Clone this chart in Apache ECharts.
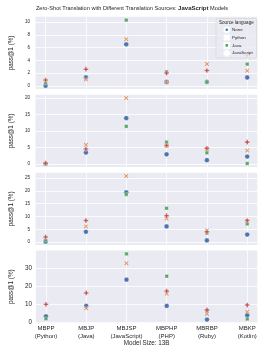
<!DOCTYPE html>
<html>
<head>
<meta charset="utf-8">
<script src="https://cdn.jsdelivr.net/npm/echarts@6/dist/echarts.min.js"></script>
<style>html,body{margin:0;padding:0;background:#fff}#c{width:264px;height:351px}</style>
</head>
<body>
<div id="c"></div>
<script>
const categories = ['MBPP\n(Python)', 'MBJP\n(Java)', 'MBJSP\n(JavaScript)', 'MBPHP\n(PHP)', 'MBRBP\n(Ruby)', 'MBKP\n(Kotlin)'];
const sources = ['None', 'Python', 'Java', 'JavaScript'];

// panel values: [None, Python, Java, JavaScript] per target benchmark
const panel1None = [0, 1.3, 6.5, 0.6, 0.6, 1.3];
const panel1Python = [null, 1.0, 7.3, 0.6, 3.4, 2.35];
const panel1Java = [0.4, null, 10.3, 2.2, 0.6, 3.4];
const panel1JavaScript = [0.9, 2.6, null, 2.0, 2.4, 4.8];

const panel2None = [0, 3.45, 13.9, 2.9, 1.1, 2.2];
const panel2Python = [null, 5.8, 20.0, 5.5, 4.5, 4.06];
const panel2Java = [0, null, 11.4, 6.6, 3.35, 0.1];
const panel2JavaScript = [0.2, 4.5, null, 5.6, 4.7, 6.6];

const panel3None = [0.13, 4.0, 19.4, 6.1, 0.65, 2.9];
const panel3Python = [null, 6.1, 25.8, 9.2, 4.5, 8.1];
const panel3Java = [0.65, null, 18.6, 13.2, 3.5, 7.1];
const panel3JavaScript = [1.95, 8.4, null, 10.3, 4.0, 8.4];

const panel4None = [3.3, 9.1, 23.7, 9.1, 1.5, 3.9];
const panel4Python = [null, 7.8, 32.8, 15.9, 4.6, 5.9];
const panel4Java = [2.0, null, 38.0, 25.6, 6.3, 1.85];
const panel4JavaScript = [10.0, 16.3, null, 17.4, 6.9, 9.6];

const yTicks1 = [0, 2, 4, 6, 8, 10];
const yTicks2 = [0, 5, 10, 15, 20];
const yTicks3 = [0, 5, 10, 15, 20, 25];
const yTicks4 = [0, 10, 20, 30];
const xTicks = [0, 1, 2, 3, 4, 5];

const panels = [
  [panel1None, panel1Python, panel1Java, panel1JavaScript],
  [panel2None, panel2Python, panel2Java, panel2JavaScript],
  [panel3None, panel3Python, panel3Java, panel3JavaScript],
  [panel4None, panel4Python, panel4Java, panel4JavaScript]
];
const yTicks = [yTicks1, yTicks2, yTicks3, yTicks4];

const colors = ['#4C72B0', '#DD8452', '#55A868', '#C44E52'];
const symbols = [
  'circle',
  'path://M0,1L1,0L3,2L5,0L6,1L4,3L6,5L5,6L3,4L1,6L0,5L2,3Z',
  'rect',
  'path://M2,0H4V2H6V4H4V6H2V4H0V2H2Z'
];
const symbolSizes = [4.8, 4.5, 3.5, 4.7];

const FONT = 'Liberation Sans, Arial, sans-serif';
const tops = [16.8, 94.8, 172.7, 250.6];
const H = 72.3;

const grids = [], xAxes = [], yAxes = [], series = [];
panels.forEach((panel, p) => {
  grids.push({left: 23, right: 6.7, top: tops[p], height: H, show: true, backgroundColor: '#EAEAF2', borderWidth: 0});
  xAxes.push({
    type: 'value', gridIndex: p, min: -0.25, max: 5.25,
    axisLine: {show: false}, axisTick: {show: false, customValues: xTicks},
    splitLine: {show: true, lineStyle: {color: '#ffffff', width: 0.8}},
    axisLabel: {show: p === 3, customValues: xTicks, formatter: v => categories[Math.round(v)] || '',
      fontSize: 6, color: '#262626', fontFamily: FONT, lineHeight: 7.4, margin: 2},
    name: p === 3 ? 'Model Size: 13B' : '', nameLocation: 'middle', nameGap: 17,
    nameTextStyle: {fontSize: 6.3, color: '#262626', fontFamily: FONT}
  });
  yAxes.push({
    type: 'value', gridIndex: p,
    min: v => v.min - 0.05 * (v.max - v.min),
    max: v => v.max + 0.05 * (v.max - v.min),
    axisLine: {show: false}, axisTick: {show: false, customValues: yTicks[p]},
    splitLine: {show: true, lineStyle: {color: '#ffffff', width: 0.8}},
    axisLabel: {customValues: yTicks[p], fontSize: p === 3 ? 6.3 : 4.6, color: '#262626', fontFamily: FONT, margin: p === 3 ? 4 : 5.5},
    name: 'pass@1 (%)', nameLocation: 'middle', nameRotate: 90, nameGap: 12,
    nameTextStyle: {fontSize: 6.3, color: '#262626', fontFamily: FONT}
  });
  panel.forEach((vals, s) => {
    series.push({
      type: 'scatter', name: sources[s], xAxisIndex: p, yAxisIndex: p,
      symbol: symbols[s], symbolSize: symbolSizes[s],
      itemStyle: {color: colors[s], borderColor: '#ffffff', borderWidth: 0.3, opacity: 1},
      data: vals.map((v, i) => v === null ? null : [i, v]).filter(d => d !== null),
      animation: false, z: 2 + s
    });
  });
});

const chart = echarts.init(document.getElementById('c'), null, {renderer: 'canvas'});
chart.setOption({
  animation: false,
  title: [{
    text: '{n|Zero-Shot Translation with Different Translation Sources: }{b|JavaScript}{n| Models}',
    left: 'center', top: 5, padding: 0,
    textStyle: {fontWeight: 'normal', rich: {
      n: {fontSize: 5.6, fontWeight: 'normal', color: '#262626', fontFamily: FONT},
      b: {fontSize: 6, fontWeight: 'bold', color: '#262626', fontFamily: FONT}
    }}
  }, {
    text: 'Source language', left: 219, top: 19.8, padding: 0, z: 20,
    textStyle: {fontSize: 4.6, fontWeight: 'normal', color: '#262626', fontFamily: FONT}
  }],
  legend: {
    data: sources, orient: 'vertical', left: 216, top: 18.5,
    padding: [8, 4, 1.5, 7.5], itemGap: 1.2, itemWidth: 4.6, itemHeight: 4.6,
    backgroundColor: 'rgba(234,234,242,0.85)', borderColor: '#cccccc', borderWidth: 0.5, borderRadius: 1.5,
    textStyle: {fontSize: 4.4, color: '#262626', fontFamily: FONT, padding: [0, 0, 0, -2]},
    z: 10
  },
  grid: grids, xAxis: xAxes, yAxis: yAxes, series: series
});
</script>
</body>
</html>
